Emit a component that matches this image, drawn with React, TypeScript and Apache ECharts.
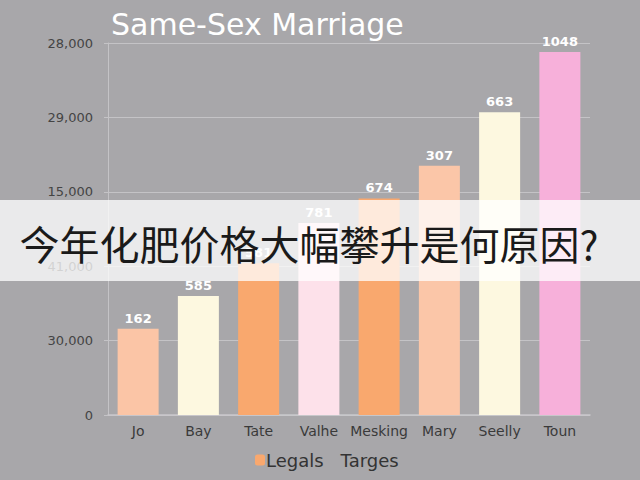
import React, { useEffect, useRef } from "react";
import * as echarts from "echarts";

const categories = ["Jo", "Bay", "Tate", "Valhe", "Mesking", "Mary", "Seelly", "Toun"];
// bar heights in axis units (tick step = 100)
const barValues = [116, 160, 204, 258, 291, 335, 407, 488];
const barLabels = ["162", "585", "581", "781", "674", "307", "663", "1048"];
const barColors = ["#fbc5a6", "#fdf8e0", "#f9a86e", "#fde1ea", "#f9a86e", "#fbc6a8", "#fdf8e0", "#f7b0da"];
const tickLabels = ["0", "30,000", "41,000", "15,000", "29,000", "28,000"];
const legendNames = ["Legals", "Targes"];
const titleText = "Same-Sex Marriage";
const overlayText = "今年化肥价格大幅攀升是何原因?";

const FONT = "'DejaVu Sans', sans-serif";

export default function App() {
  const ref = useRef<HTMLDivElement>(null);
  useEffect(() => {
    if (!ref.current) return;
    const chart = echarts.init(ref.current, null, { renderer: "svg" });
    chart.setOption({
      animation: false,
      backgroundColor: "#a8a7aa",
      title: {
        text: titleText,
        left: 106,
        top: 4,
        textStyle: { color: "#ffffff", fontSize: 30, fontWeight: "normal", fontFamily: FONT },
      },
      legend: {
        bottom: 6,
        left: 250,
        itemWidth: 10,
        itemHeight: 11,
        itemGap: 6,
        textStyle: { color: "#333333", fontSize: 18, fontFamily: FONT, padding: [0, 0, 0, -4] },
        data: [
          { name: legendNames[0], itemStyle: { color: "#f9a86e" } },
          { name: legendNames[1], icon: "none" },
        ],
      },
      grid: { left: 108, right: 50, top: 43, bottom: 65 },
      xAxis: {
        type: "category",
        data: categories,
        axisLine: { lineStyle: { color: "#c9c8cb", width: 1.5 } },
        axisTick: { show: false },
        axisLabel: { color: "#3a3a3a", fontSize: 14, margin: 9, interval: 0, fontFamily: FONT },
      },
      yAxis: {
        type: "value",
        min: 0,
        max: 500,
        interval: 100,
        axisLine: { show: true, lineStyle: { color: "#c4c3c6" } },
        axisTick: { show: true, length: 4, lineStyle: { color: "#c4c3c6" } },
        splitLine: { lineStyle: { color: "#c4c3c6", width: 1 } },
        axisLabel: {
          color: "#444444",
          fontSize: 13,
          margin: 15,
          fontFamily: FONT,
          formatter: (v: number) => tickLabels[Math.round(v / 100)] ?? "",
        },
      },
      series: [
        {
          name: legendNames[0],
          type: "bar",
          barWidth: 41,
          barGap: "-100%",
          data: barValues.map((v, i) => ({ value: v, itemStyle: { color: barColors[i] } })),
          itemStyle: { color: "#f9a86e" },
          label: {
            show: true,
            position: "top",
            distance: 4,
            color: "#ffffff",
            fontSize: 13,
            fontWeight: "bold",
            fontFamily: FONT,
            formatter: (p: any) => barLabels[p.dataIndex],
          },
        },
        {
          name: legendNames[1],
          type: "bar",
          barWidth: 41,
          barGap: "-100%",
          data: [],
          itemStyle: { color: "#a8a7aa" },
        },
      ],
      graphic: [
        {
          type: "rect",
          z: 100,
          shape: { x: 0, y: 200, width: 640, height: 81 },
          style: { fill: "rgba(255,255,255,0.76)" },
        },
        {
          type: "text",
          z: 101,
          x: 309,
          y: 243,
          style: {
            text: overlayText,
            fill: "#1a1a1a",
            font: "40px 'Noto Sans CJK SC'",
            textAlign: "center",
            textVerticalAlign: "middle",
          },
        },
      ],
    });
    return () => chart.dispose();
  }, []);
  return (
    <div
      ref={ref}
      style={{ position: "fixed", left: 0, top: 0, width: 640, height: 480 }}
    />
  );
}
